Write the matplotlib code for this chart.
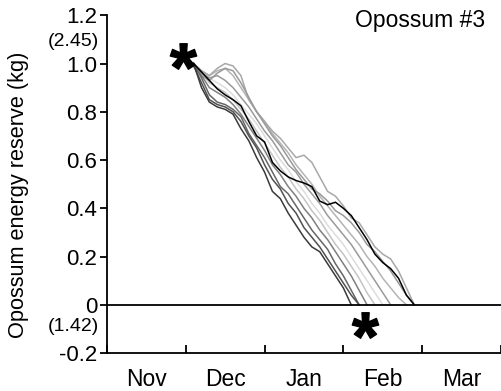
import numpy as np
import matplotlib
matplotlib.use("Agg")
import matplotlib.pyplot as plt
from matplotlib.transforms import blended_transform_factory

plt.rcParams["font.family"] = ["Liberation Sans", "DejaVu Sans"]
plt.rcParams["mathtext.fontset"] = "custom"
plt.rcParams["mathtext.bf"] = "Liberation Sans:bold"
plt.rcParams["mathtext.rm"] = "Liberation Sans"

# time axis in months since 1 Nov, sampled every ~3 days
t = [1.1, 1.2, 1.3, 1.4, 1.5, 1.6, 1.7, 1.8, 1.9, 2.0,
     2.1, 2.2, 2.3, 2.4, 2.5, 2.6, 2.7, 2.8, 2.9, 3.0,
     3.1, 3.2, 3.3, 3.4, 3.5, 3.6, 3.7, 3.8, 3.9]

months = ["Nov", "Dec", "Jan", "Feb", "Mar"]
yticks = [-0.2, 0, 0.2, 0.4, 0.6, 0.8, 1.0, 1.2]
ytick_labels = ["-0.2", "0", "0.2", "0.4", "0.6", "0.8", "1.0", "1.2"]

# simulated energy reserve trajectories (kg, relative)
d1 = [1.00, 0.90, 0.84, 0.82, 0.81, 0.79, 0.73, 0.68, 0.61, 0.55,
      0.47, 0.44, 0.38, 0.33, 0.28, 0.24, 0.22, 0.17, 0.12, 0.07, 0.0]
d2 = [0.99, 0.92, 0.85, 0.83, 0.82, 0.80, 0.76, 0.70, 0.65, 0.58,
      0.52, 0.48, 0.42, 0.38, 0.32, 0.28, 0.24, 0.19, 0.14, 0.09, 0.04, 0.0]
d3 = [1.00, 0.94, 0.87, 0.84, 0.83, 0.81, 0.78, 0.71, 0.66, 0.61,
      0.55, 0.49, 0.46, 0.41, 0.36, 0.31, 0.27, 0.23, 0.17, 0.12, 0.06, 0.0]
g1 = [1.00, 0.95, 0.90, 0.88, 0.86, 0.83, 0.79, 0.74, 0.69, 0.64,
      0.58, 0.54, 0.49, 0.45, 0.40, 0.36, 0.31, 0.27, 0.22, 0.17, 0.12, 0.06, 0.0]
g2 = [1.00, 0.96, 0.94, 0.95, 0.93, 0.90, 0.86, 0.82, 0.77, 0.72,
      0.68, 0.63, 0.58, 0.55, 0.50, 0.46, 0.42, 0.37, 0.33, 0.29,
      0.25, 0.20, 0.15, 0.10, 0.05, 0.0]
g3 = [1.00, 0.96, 0.92, 0.90, 0.88, 0.85, 0.81, 0.77, 0.72, 0.67,
      0.62, 0.57, 0.53, 0.48, 0.44, 0.39, 0.35, 0.30, 0.25, 0.21,
      0.16, 0.11, 0.05, 0.0]
g5 = [0.99, 0.97, 0.94, 0.92, 0.90, 0.87, 0.83, 0.79, 0.75, 0.70,
      0.65, 0.60, 0.56, 0.51, 0.47, 0.42, 0.38, 0.33, 0.29, 0.25,
      0.20, 0.15, 0.10, 0.05, 0.0]
g6 = [1.00, 0.97, 0.95, 0.97, 0.98, 0.95, 0.90, 0.85, 0.80, 0.76,
      0.71, 0.67, 0.63, 0.58, 0.54, 0.50, 0.45, 0.41, 0.37, 0.33,
      0.29, 0.25, 0.20, 0.16, 0.11, 0.07, 0.03, 0.0]
l2 = [0.99, 0.95, 0.93, 0.96, 0.98, 0.97, 0.92, 0.86, 0.80, 0.75,
      0.70, 0.66, 0.61, 0.56, 0.52, 0.48, 0.46, 0.43, 0.39, 0.37,
      0.34, 0.30, 0.25, 0.22, 0.18, 0.14, 0.09, 0.04, 0.0]
l1 = [1.00, 0.97, 0.95, 0.98, 1.00, 0.99, 0.95, 0.85, 0.80, 0.76,
      0.72, 0.69, 0.65, 0.61, 0.62, 0.59, 0.53, 0.47, 0.45, 0.41,
      0.36, 0.34, 0.29, 0.24, 0.21, 0.19, 0.14, 0.07, 0.0]
black = [1.00, 0.965, 0.93, 0.895, 0.87, 0.85, 0.825, 0.76, 0.70, 0.675,
         0.59, 0.555, 0.53, 0.515, 0.505, 0.49, 0.43, 0.415, 0.425, 0.40,
         0.37, 0.32, 0.27, 0.21, 0.175, 0.15, 0.11, 0.04, 0.0]

series = [
    (g5, "#dddddd"), (g3, "#c4c4c4"), (g6, "#b4b4b4"), (l1, "#a8a8a8"),
    (l2, "#999999"), (g2, "#9a9a9a"), (g1, "#808080"),
    (d3, "#666666"), (d2, "#505050"), (d1, "#3a3a3a"), (black, "#000000"),
]

fig = plt.figure(figsize=(5.02, 3.91), dpi=100)
ax = fig.add_axes([0.213, 0.097, 0.785, 0.864])

for ys, c in series:
    ax.plot(t[:len(ys)], ys, color=c, lw=1.1, solid_joinstyle="miter")

ax.axhline(0, color="black", lw=1.3)

# asterisks marking start and end
ax.plot([0.96], [1.03], marker=r"$\mathbf{*}$", ms=19, color="black", ls="none")
ax.plot([3.27], [-0.083], marker=r"$\mathbf{*}$", ms=19, color="black", ls="none")

ax.set_xlim(0, 5)
ax.set_ylim(-0.2, 1.2)
ax.set_yticks(yticks)
ax.set_yticklabels(ytick_labels, fontsize=16)
ax.set_xticks([0, 1, 2, 3, 4, 5])
ax.set_xticklabels([])
ax.set_xticks([0.5, 1.5, 2.5, 3.5, 4.5], minor=True)
ax.set_xticklabels(months, minor=True, fontsize=16.5)
ax.tick_params(axis="x", which="major", direction="in", length=6, width=1.3)
ax.tick_params(axis="x", which="minor", length=0, pad=11)
ax.tick_params(axis="y", direction="out", length=5, width=1.3, pad=2)

for s in ["top", "right"]:
    ax.spines[s].set_visible(False)
for s in ["left", "bottom"]:
    ax.spines[s].set_linewidth(1.3)

ax.set_ylabel("Opossum energy reserve (kg)", fontsize=15.7)
ax.yaxis.set_label_coords(-0.197, 0.467)

trans = blended_transform_factory(ax.transAxes, ax.transData)
ax.text(-0.02, 1.09, "(2.45)", transform=trans, ha="right", va="center", fontsize=14)
ax.text(-0.02, -0.09, "(1.42)", transform=trans, ha="right", va="center", fontsize=14)

ax.text(0.96, 0.985, "Opossum #3", transform=ax.transAxes, ha="right", va="center", fontsize=16.5)

fig.savefig("out.png", dpi=100)
